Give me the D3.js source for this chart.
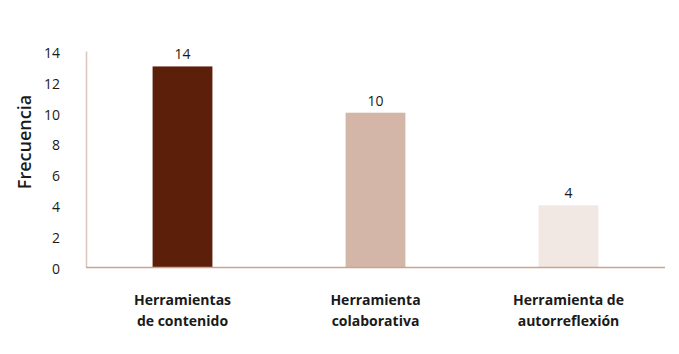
<!DOCTYPE html>
<html><head><meta charset="utf-8">
<script src="https://cdn.jsdelivr.net/npm/d3@7"></script>
<style>body{margin:0;background:#fff}svg{display:block}</style>
</head><body>
<svg id="c" width="679" height="354"></svg>
<script>
const categories = [["Herramientas","de contenido"],["Herramienta","colaborativa"],["Herramienta de","autorreflexión"]];
const barValues = [13, 10, 4];
const labelValues = ["14", "10", "4"];
const colors = ["#5c1f0a", "#d4b6a9", "#f2e8e3"];
const yTicks = [0, 2, 4, 6, 8, 10, 12, 14];

const svg = d3.select("#c");
const x0 = 86, x1 = 665, yTop = 51, yBot = 267;
const x = d3.scaleBand().domain(d3.range(categories.length)).range([x0, x1]).paddingInner(0.69).paddingOuter(0.345);
const y = d3.scaleLinear().domain([0, 14]).range([yBot, yTop]);
const font = "'Open Sans', 'Noto Sans', sans-serif";

// y axis
const yAxis = svg.append("g").attr("transform", `translate(${x0},0)`)
  .call(d3.axisLeft(y).tickValues(yTicks).tickSize(0).tickPadding(26));
yAxis.select(".domain").attr("stroke", "#dcc6b9").attr("stroke-width", 1.5);
yAxis.selectAll("text").attr("font-family", font).attr("font-size", 14).attr("fill", "#1a1a1a").attr("dy", "0.45em");

// bars
svg.selectAll("rect.bar").data(barValues).join("rect")
  .attr("x", (d, i) => x(i)).attr("width", x.bandwidth())
  .attr("y", d => y(d)).attr("height", d => yBot - y(d))
  .attr("fill", (d, i) => colors[i]);

// baseline
svg.append("line").attr("x1", x0).attr("x2", x1).attr("y1", yBot + 0.5).attr("y2", yBot + 0.5)
  .attr("stroke", "#caa48e").attr("stroke-width", 1.5);

// value labels
svg.selectAll("text.val").data(barValues).join("text")
  .attr("x", (d, i) => x(i) + x.bandwidth() / 2).attr("y", d => y(d) - 7)
  .attr("text-anchor", "middle").attr("font-family", font).attr("font-size", 14).attr("fill", "#1a1a1a")
  .text((d, i) => labelValues[i]);

// category labels
const cat = svg.selectAll("text.cat").data(categories).join("text")
  .attr("text-anchor", "middle").attr("font-family", font).attr("font-size", 14)
  .attr("font-weight", "bold").attr("fill", "#1a1a1a");
cat.each(function(d, i) {
  const t = d3.select(this);
  d.forEach((line, j) => {
    t.append("tspan").attr("x", x(i) + x.bandwidth() / 2).attr("y", 305 + j * 21).text(line);
  });
});

// y title
svg.append("text").attr("transform", "translate(31,142) rotate(-90)")
  .attr("text-anchor", "middle").attr("font-family", font).attr("font-size", 18)
  .attr("font-weight", 600).attr("fill", "#1a1a1a").text("Frecuencia");
</script>
</body></html>
